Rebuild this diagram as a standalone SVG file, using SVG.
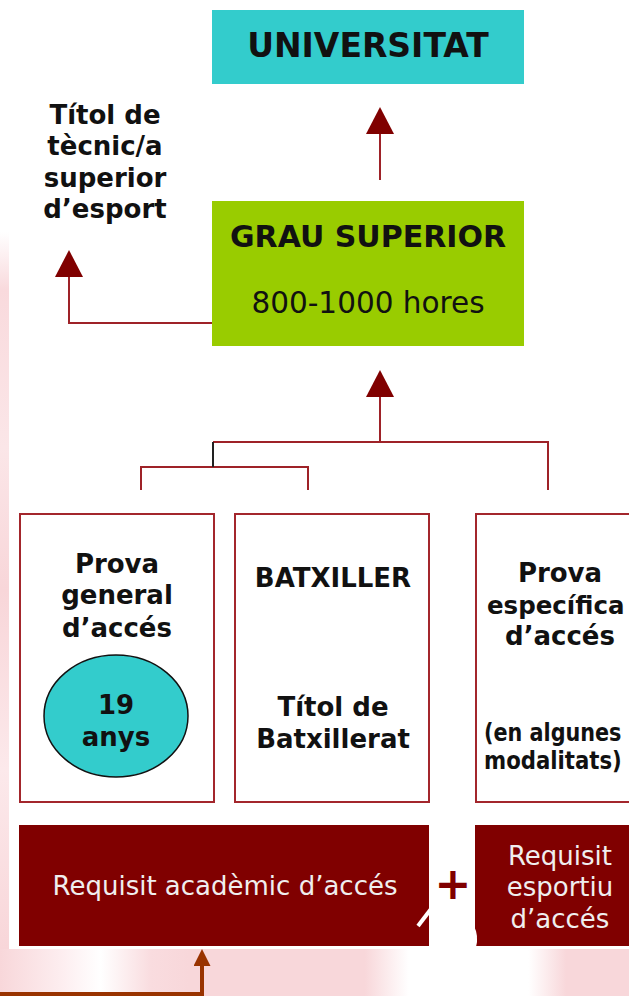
<svg xmlns="http://www.w3.org/2000/svg" width="629" height="996" viewBox="0 0 629 996">
<defs>
<style>
.b{font-family:"DejaVu Sans","Verdana",sans-serif;font-weight:bold;font-size:26px;fill:#111;text-anchor:middle}
.bl{font-family:"DejaVu Sans","Verdana",sans-serif;font-weight:bold;font-size:25px;fill:#111}
.w{font-family:"DejaVu Sans","Verdana",sans-serif;font-size:26px;fill:#f0eeee;text-anchor:middle}
.box{fill:#fff;stroke:#a3262c;stroke-width:2}
.req{fill:#800000}
.con{fill:none;stroke:#9e2228;stroke-width:2}
</style>
<marker id="ah" viewBox="0 0 27 28" refX="0" refY="14" markerWidth="27" markerHeight="28" markerUnits="userSpaceOnUse" orient="auto">
<path d="M0,0 L27,14 L0,28 Z" fill="#800000"/>
</marker>
<marker id="ahb" viewBox="0 0 17 17" refX="0" refY="8.5" markerWidth="17" markerHeight="17" markerUnits="userSpaceOnUse" orient="auto">
<path d="M0,0 L17,8.5 L0,17 Z" fill="#993300"/>
</marker>
<linearGradient id="ls" x1="0" y1="0" x2="0" y2="1">
<stop offset="0" stop-color="#fff"/>
<stop offset="0.08" stop-color="#f9dadd"/>
<stop offset="0.3" stop-color="#fbe6e8"/>
<stop offset="0.5" stop-color="#f8d6d9"/>
<stop offset="0.75" stop-color="#fce9eb"/>
<stop offset="1" stop-color="#f8d6d9"/>
</linearGradient>
<linearGradient id="bs" x1="0" y1="0" x2="1" y2="0">
<stop offset="0" stop-color="#f8d7da"/>
<stop offset="0.1" stop-color="#fdeef0"/>
<stop offset="0.16" stop-color="#fff"/>
<stop offset="0.24" stop-color="#f9dcdf"/>
<stop offset="0.3" stop-color="#f8d7da"/>
<stop offset="0.58" stop-color="#f8d7da"/>
<stop offset="0.65" stop-color="#fff"/>
<stop offset="0.84" stop-color="#fff"/>
<stop offset="0.9" stop-color="#f8d7da"/>
<stop offset="1" stop-color="#f8d7da"/>
</linearGradient>
</defs>
<rect x="0" y="0" width="629" height="996" fill="#fff"/>
<rect x="0" y="232" width="9" height="717" fill="url(#ls)"/>
<rect x="0" y="949" width="629" height="47" fill="url(#bs)"/>

<g id="connectors">
<path class="con" d="M380,180 V134" marker-end="url(#ah)"/>
<path class="con" d="M212,323 H69 V277" marker-end="url(#ah)"/>
<path class="con" d="M380,442 V397" marker-end="url(#ah)"/>
<path class="con" d="M213,442 H548 V490"/>
<path class="con" d="M141,490 V467 H308 V490"/>
<path d="M213,442 V467" fill="none" stroke="#222" stroke-width="2"/>
<path d="M0,994 H202 V966" fill="none" stroke="#993300" stroke-width="4" marker-end="url(#ahb)"/>
</g>

<g id="universitat">
<rect x="212" y="10" width="312" height="74" fill="#33cccc"/>
<text class="b" x="368" y="57" style="font-size:33px">UNIVERSITAT</text>
</g>

<g id="titol-tecnic">
<text class="b" x="105" y="124">Títol de</text>
<text class="b" x="105" y="155">tècnic/a</text>
<text class="b" x="105" y="187">superior</text>
<text class="b" x="105" y="218">d’esport</text>
</g>

<g id="grau-superior">
<rect x="212" y="201" width="312" height="145" fill="#99cc00"/>
<text class="b" x="368" y="247" style="font-size:30px">GRAU SUPERIOR</text>
<text class="b" x="368" y="313" style="font-size:29.5px;font-weight:normal">800-1000 hores</text>
</g>

<g id="prova-general">
<rect class="box" x="20" y="514" width="194" height="288"/>
<text class="b" x="117" y="573">Prova</text>
<text class="b" x="117" y="604">general</text>
<text class="b" x="117" y="637">d’accés</text>
<ellipse cx="116" cy="716" rx="72" ry="61" fill="#33cccc" stroke="#111" stroke-width="1.5"/>
<text class="b" x="116" y="714">19</text>
<text class="b" x="116" y="746">anys</text>
</g>

<g id="batxiller">
<rect class="box" x="235" y="514" width="194" height="288"/>
<text class="b" x="333" y="587">BATXILLER</text>
<text class="b" x="333" y="716">Títol de</text>
<text class="b" x="333" y="748">Batxillerat</text>
</g>

<g id="prova-especifica">
<rect class="box" x="476" y="514" width="200" height="288"/>
<text class="b" x="560" y="582">Prova</text>
<text class="bl" transform="translate(487,614) scale(0.98,1)">específica</text>
<text class="b" x="560" y="645">d’accés</text>
<text class="bl" transform="translate(484,741) scale(0.83,1)">(en algunes</text>
<text class="bl" transform="translate(484,769) scale(0.85,1)">modalitats)</text>
</g>

<g id="requisit-academic">
<rect class="req" x="19" y="825" width="410" height="121"/>
<text class="w" x="225" y="895">Requisit acadèmic d’accés</text>
</g>

<g id="plus">
<text x="453" y="899" style="font-family:'DejaVu Sans',sans-serif;font-weight:bold;font-size:44px;fill:#800000;text-anchor:middle">+</text>
</g>

<g id="requisit-esportiu">
<rect class="req" x="475" y="825" width="160" height="121"/>
<text class="w" x="560" y="865">Requisit</text>
<text class="w" x="560" y="896">esportiu</text>
<text class="w" x="560" y="928">d’accés</text>
</g>

<g id="artifacts">
<path d="M418,926 L431,909" stroke="#fff" stroke-width="4" fill="none"/>
<path d="M474,926 Q479,936 476,947 L474,947 Z" fill="#fff"/>
</g>
</svg>
